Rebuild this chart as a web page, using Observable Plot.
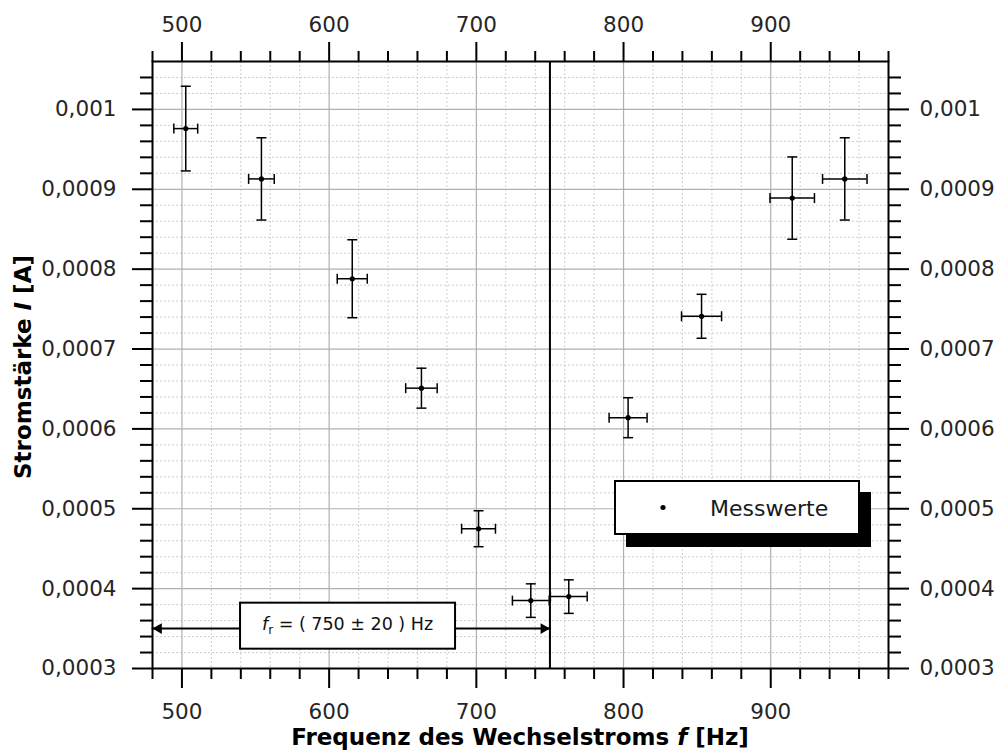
<!DOCTYPE html>
<html><head><meta charset="utf-8">
<script src="https://cdn.jsdelivr.net/npm/d3@7"></script>
<script src="https://cdn.jsdelivr.net/npm/@observablehq/plot@0.6"></script>
<style>body{margin:0;background:#fff;} svg{display:block;}</style>
</head><body><div id="chart"></div>
<script>
// ---- data ----
const frequency      = [502.6, 554.0, 615.7, 662.7, 701.5, 737.0, 762.8, 803.1, 853.0, 914.6, 950.3];
const current        = [0.000976, 0.000913, 0.000788, 0.000651, 0.000475, 0.000385, 0.000390, 0.000614, 0.000741, 0.000889, 0.000913];
const frequencyError = [8.1, 8.7, 10.2, 10.7, 11.5, 12.5, 12.5, 12.9, 13.6, 15.1, 15.1];
const currentError   = [0.0000530, 0.0000515, 0.0000488, 0.0000250, 0.0000225, 0.0000210, 0.0000210, 0.0000250, 0.0000275, 0.0000515, 0.0000515];

const xMajorTicks = [500, 600, 700, 800, 900];
const yMajorTicks = [0.0003, 0.0004, 0.0005, 0.0006, 0.0007, 0.0008, 0.0009, 0.001];
const xDomain = [480, 980];
const yDomain = [0.0003, 0.00106];
const xMinorStep = 20;
const yMinorStep = 0.00002;

const resonance = 750;
const resonanceError = 20;
const arrowLevel = 0.00035;
const arrowLabel = [{x: 612.5, y: 0.000355}];
const legendLabel = "Messwerte";
const xLabel = ["Frequenz des Wechselstroms ", "f", " [Hz]"];
const yLabel = ["Stromstärke ", "I", " [A]"];

// ---- derived tables ----
const points = frequency.map((f, i) => ({f, I: current[i], df: frequencyError[i], dI: currentError[i]}));
const key = v => v.toFixed(6);
const xAll = d3.range(xDomain[0], xDomain[1] + 1e-9, xMinorStep);
const yAll = d3.range(Math.round(yDomain[0] / yMinorStep), Math.round(yDomain[1] / yMinorStep)).map(i => +(i * yMinorStep).toFixed(6));
const xMinor = xAll.filter(v => !xMajorTicks.map(key).includes(key(v)));
const yMinor = yAll.filter(v => !yMajorTicks.map(key).includes(key(v)));
const fmt = d => String(d).replace(".", ",");
const arrowSeg = [{x: xDomain[0], y: arrowLevel}, {x: resonance, y: arrowLevel}];
const resLabelText = ` = ( ${resonance} ± ${resonanceError} ) Hz`;

const hline = {draw(ctx, size) { const r = Math.sqrt(size / Math.PI); ctx.moveTo(-r, 0); ctx.lineTo(r, 0); }};
const vline = {draw(ctx, size) { const r = Math.sqrt(size / Math.PI); ctx.moveTo(0, -r); ctx.lineTo(0, r); }};

const FONT = "DejaVu Sans";
const axisCommon = {stroke: "black", fill: "#262626", strokeWidth: 2, label: null};

const plot = Plot.plot({
  width: 999, height: 752,
  marginLeft: 152, marginRight: 111, marginTop: 61, marginBottom: 84,
  style: {fontFamily: FONT, fontSize: "21.5px", background: "white", overflow: "visible"},
  x: {domain: xDomain},
  y: {domain: yDomain},
  marks: [
    // grid
    Plot.ruleX(xMinor, {stroke: "#c8c8c8", strokeWidth: 0.9, strokeDasharray: "2,2"}),
    Plot.ruleY(yMinor, {stroke: "#c8c8c8", strokeWidth: 0.9, strokeDasharray: "2,2"}),
    Plot.ruleX(xMajorTicks, {stroke: "#b0b0b0", strokeWidth: 1.2}),
    Plot.ruleY(yMajorTicks, {stroke: "#b0b0b0", strokeWidth: 1.2}),
    // axes: major
    Plot.axisX({...axisCommon, ticks: xMajorTicks, anchor: "bottom", tickSize: 20, tickPadding: 15, tickFormat: fmt}),
    Plot.axisX({...axisCommon, ticks: xMajorTicks, anchor: "top", tickSize: 20, tickPadding: 10, tickFormat: fmt}),
    Plot.axisY({...axisCommon, ticks: yMajorTicks, anchor: "left", tickSize: 20, tickPadding: 16, tickFormat: fmt}),
    Plot.axisY({...axisCommon, ticks: yMajorTicks, anchor: "right", tickSize: 20, tickPadding: 11, tickFormat: fmt}),
    // axes: minor
    Plot.axisX({...axisCommon, ticks: xMinor, anchor: "bottom", tickSize: 11, tickFormat: () => ""}),
    Plot.axisX({...axisCommon, ticks: xMinor, anchor: "top", tickSize: 11, tickFormat: () => ""}),
    Plot.axisY({...axisCommon, ticks: yMinor, anchor: "left", tickSize: 12, tickFormat: () => ""}),
    Plot.axisY({...axisCommon, ticks: yMinor, anchor: "right", tickSize: 12, tickFormat: () => ""}),
    Plot.frame({stroke: "black", strokeWidth: 2}),
    // error bars
    Plot.ruleX(points, {x: "f", y1: d => d.I - d.dI, y2: d => d.I + d.dI, stroke: "black", strokeWidth: 1.5}),
    Plot.ruleY(points, {y: "I", x1: d => d.f - d.df, x2: d => d.f + d.df, stroke: "black", strokeWidth: 1.5}),
    Plot.dot(points, {x: "f", y: d => d.I - d.dI, symbol: hline, r: 5, stroke: "black", strokeWidth: 1.5, fill: "none"}),
    Plot.dot(points, {x: "f", y: d => d.I + d.dI, symbol: hline, r: 5, stroke: "black", strokeWidth: 1.5, fill: "none"}),
    Plot.dot(points, {x: d => d.f - d.df, y: "I", symbol: vline, r: 5, stroke: "black", strokeWidth: 1.5, fill: "none"}),
    Plot.dot(points, {x: d => d.f + d.df, y: "I", symbol: vline, r: 5, stroke: "black", strokeWidth: 1.5, fill: "none"}),
    Plot.dot(points, {x: "f", y: "I", r: 2.6, fill: "black", stroke: null}),
    // resonance line + arrow
    Plot.ruleX([resonance], {stroke: "black", strokeWidth: 2}),
    Plot.line(arrowSeg, {x: "x", y: "y", stroke: "black", strokeWidth: 2}),
    Plot.dot(arrowSeg.slice(0, 1), {x: "x", y: "y", symbol: "triangle", r: 4, rotate: -90, dx: 6.2, fill: "black", stroke: null}),
    Plot.dot(arrowSeg.slice(1), {x: "x", y: "y", symbol: "triangle", r: 4, rotate: 90, dx: -6.2, fill: "black", stroke: null}),
    Plot.text(arrowLabel, {x: "x", y: "y", text: () => "f" + resLabelText, fontSize: 17.5, fill: "#111"})
  ]
});
document.getElementById("chart").appendChild(plot);

const svg = d3.select(plot);
// rich resonance label + box
const t = svg.selectAll("text").filter(function () { return this.textContent === "f" + resLabelText; });
if (!t.empty()) {
  const node = t.node();
  t.text(null);
  t.append("tspan").attr("font-style", "italic").text("f");
  t.append("tspan").attr("font-size", 12).attr("dy", 4).text("r");
  t.append("tspan").attr("dy", -4).text(resLabelText);
  const bb = node.getBBox();
  const cx = bb.x + bb.width / 2, cy = bb.y + bb.height / 2;
  d3.select(node.parentNode).insert("rect", () => node)
    .attr("transform", node.getAttribute("transform"))
    .attr("x", cx - 107.5).attr("y", cy - 23).attr("width", 215).attr("height", 46)
    .attr("fill", "white").attr("stroke", "black").attr("stroke-width", 2);
}

// legend with shadow
const lg = svg.append("g").attr("text-anchor", "start");
lg.append("rect").attr("x", 626).attr("y", 492).attr("width", 245).attr("height", 55).attr("fill", "black");
lg.append("rect").attr("x", 615).attr("y", 481).attr("width", 244).attr("height", 53).attr("fill", "white").attr("stroke", "black").attr("stroke-width", 2);
lg.append("circle").attr("cx", 663).attr("cy", 507.5).attr("r", 2.6).attr("fill", "black");
lg.append("text").attr("x", 710).attr("y", 515.5).attr("font-size", 22).attr("font-family", FONT).attr("fill", "#1a1a1a").text(legendLabel);

// axis labels
const xl = svg.append("text").attr("x", 520).attr("y", 745).attr("text-anchor", "middle")
  .attr("font-size", 23).attr("font-weight", "bold").attr("font-family", FONT).attr("fill", "black");
xl.append("tspan").text(xLabel[0]);
xl.append("tspan").attr("font-style", "italic").text(xLabel[1]);
xl.append("tspan").text(xLabel[2]);
const yl = svg.append("text").attr("transform", "translate(31,367) rotate(-90)").attr("text-anchor", "middle")
  .attr("font-size", 23).attr("font-weight", "bold").attr("font-family", FONT).attr("fill", "black");
yl.append("tspan").text(yLabel[0]);
yl.append("tspan").attr("font-style", "italic").text(yLabel[1]);
yl.append("tspan").text(yLabel[2]);
</script>
</body></html>
